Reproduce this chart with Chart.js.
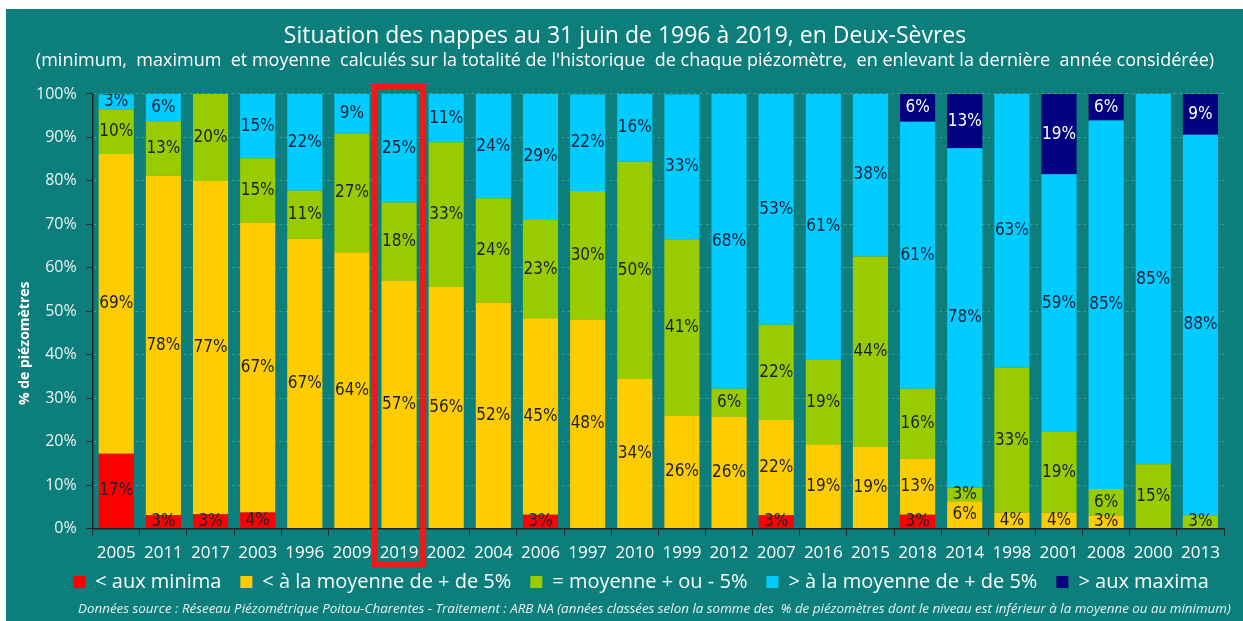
<!DOCTYPE html>
<html lang="fr">
<head>
<meta charset="utf-8">
<title>Situation des nappes - Deux-Sèvres</title>
<script src="https://cdn.jsdelivr.net/npm/chart.js@4/dist/chart.umd.min.js"></script>
<style>
  html, body { margin: 0; padding: 0; background: #fff; }
  #frame { position: absolute; left: 6px; top: 9px; width: 1237px; height: 612px; background: #0c7f7c; overflow: hidden; }
  #chart { position: absolute; left: 0; top: 0; }
  #source {
    position: absolute; left: 72px; top: 590px;
    font: italic 13.4px 'Open Sans', sans-serif; color: #e8f2f1; white-space: pre;
  }
</style>
</head>
<body>
<div id="frame">
  <canvas id="chart" width="1237" height="612"></canvas>
  <div id="source">Données source : Réseeau Piézométrique Poitou-Charentes - Traitement : ARB NA (années classées selon la somme des  % de piézomètres dont le niveau est inférieur à la moyenne ou au minimum)</div>
</div>
<script>
const years = ['2005', '2011', '2017', '2003', '1996', '2009', '2019', '2002', '2004', '2006', '1997', '2010',
  '1999', '2012', '2007', '2016', '2015', '2018', '2014', '1998', '2001', '2008', '2000', '2013'];

// % de piézomètres par classe
const belowMinima = [17.2, 3.1, 3.3, 3.7, 0, 0, 0, 0, 0, 3.2, 0, 0, 0, 0, 3.1, 0, 0, 3.2, 0, 0, 0, 0, 0, 0];
const belowAverage = [69.0, 78.1, 76.7, 66.7, 66.7, 63.6, 57.1, 55.6, 52.0, 45.2, 48.1, 34.4,
  25.9, 25.8, 21.9, 19.4, 18.8, 12.9, 6.3, 3.7, 3.7, 3.0, 0, 0];
const nearAverage = [10.3, 12.5, 20.0, 14.8, 11.1, 27.3, 17.9, 33.3, 24.0, 22.6, 29.6, 50.0,
  40.7, 6.4, 21.9, 19.4, 43.8, 16.1, 3.1, 33.3, 18.5, 6.1, 14.8, 3.1];
const aboveAverage = [3.4, 6.3, 0, 14.8, 22.2, 9.1, 25.0, 11.1, 24.0, 29.0, 22.2, 15.6,
  33.3, 67.8, 53.1, 61.3, 37.5, 61.4, 78.1, 63.0, 59.3, 84.8, 85.2, 87.5];
const aboveMaxima = [0, 0, 0, 0, 0, 0, 0, 0, 0, 0, 0, 0, 0, 0, 0, 0, 0, 6.4, 12.5, 0, 18.5, 6.1, 0, 9.4];

const highlightYear = '2019';
const yTicks = [0, 10, 20, 30, 40, 50, 60, 70, 80, 90, 100];

Chart.defaults.font.family = "'Open Sans', sans-serif";

const barLabels = {
  id: 'barLabels',
  afterDatasetsDraw(chart) {
    const { ctx, chartArea } = chart;
    ctx.save();
    ctx.beginPath();
    ctx.rect(chartArea.left, chartArea.top, chartArea.right - chartArea.left, chartArea.bottom - chartArea.top);
    ctx.clip();
    ctx.font = "17px 'DejaVu Sans Condensed', 'Open Sans', sans-serif";
    ctx.textAlign = 'center';
    ctx.textBaseline = 'middle';
    chart.data.datasets.forEach((ds, i) => {
      chart.getDatasetMeta(i).data.forEach((bar, j) => {
        const v = ds.data[j];
        if (!v) return;
        ctx.fillStyle = i === 4 ? '#ffffff' : '#1b2033';
        ctx.fillText(Math.round(v) + '%', bar.x, (bar.y + bar.base) / 2);
      });
    });
    ctx.restore();
  }
};

const highlight = {
  id: 'highlight',
  afterDraw(chart) {
    const { ctx, chartArea, scales } = chart;
    const i = years.indexOf(highlightYear);
    const cx = scales.x.getPixelForValue(i);
    const half = (chartArea.right - chartArea.left) / years.length / 2 + 0.5;
    ctx.save();
    ctx.strokeStyle = '#f01818';
    ctx.lineWidth = 6;
    ctx.strokeRect(cx - half, chartArea.top - 7, half * 2, chartArea.bottom - chartArea.top + 43);
    ctx.restore();
  }
};

const yTitle = {
  id: 'yTitle',
  afterDraw(chart) {
    const { ctx, chartArea } = chart;
    ctx.save();
    ctx.translate(19, (chartArea.top + chartArea.bottom) / 2 + 32);
    ctx.rotate(-Math.PI / 2);
    ctx.font = "bold 14px 'Open Sans', sans-serif";
    ctx.fillStyle = '#ffffff';
    ctx.textAlign = 'center';
    ctx.textBaseline = 'middle';
    ctx.fillText('% de piézomètres', 0, 0);
    ctx.restore();
  }
};

// nudge the legend row to the right, as in the original figure
const legendShift = {
  id: 'legendShift',
  afterLayout(chart) {
    if (!chart.legend) return;
    chart.legend.left += 21;
    chart.legend.right += 21;
  }
};

const ctx = document.getElementById('chart').getContext('2d');
new Chart(ctx, {
  type: 'bar',
  data: {
    labels: years,
    datasets: [
      { label: '< aux minima', data: belowMinima, backgroundColor: '#ff0000' },
      { label: '< à la moyenne de + de 5%', data: belowAverage, backgroundColor: '#ffcc00' },
      { label: '= moyenne + ou - 5%', data: nearAverage, backgroundColor: '#99cc00' },
      { label: '> à la moyenne de + de 5%', data: aboveAverage, backgroundColor: '#00ccff' },
      { label: '> aux maxima', data: aboveMaxima, backgroundColor: '#000080' }
    ]
  },
  options: {
    responsive: false,
    animation: false,
    categoryPercentage: 1,
    barPercentage: 0.745,
    layout: { padding: { left: 20, right: 19, top: 0, bottom: 19 } },
    plugins: {
      title: {
        display: true,
        text: 'Situation des nappes au 31 juin de 1996 à 2019, en Deux-Sèvres',
        color: '#ffffff',
        font: { size: 23, weight: 'normal', lineHeight: 1.12 },
        padding: { top: 15, bottom: 0 }
      },
      subtitle: {
        display: true,
        text: "(minimum,  maximum  et moyenne  calculés sur la totalité de l'historique  de chaque piézomètre,  en enlevant la dernière  année considérée)",
        color: '#ffffff',
        font: { size: 18 },
        padding: { top: 0, bottom: 22.6 }
      },
      legend: {
        position: 'bottom',
        labels: {
          color: '#ffffff',
          font: { size: 20 },
          boxWidth: 12,
          boxHeight: 12,
          padding: 9,
          generateLabels(chart) {
            return Chart.defaults.plugins.legend.labels.generateLabels(chart)
              .map(item => Object.assign(item, { text: item.text + '\u2002' }));
          }
        }
      },
      tooltip: { enabled: false }
    },
    scales: {
      x: {
        stacked: true,
        afterFit(axis) { axis.height -= 7; },
        grid: { drawOnChartArea: false, drawTicks: true, tickLength: 7, tickColor: '#222', offset: true },
        border: { color: '#222', width: 1.5 },
        ticks: { color: '#ffffff', font: { size: 17 }, padding: 7, maxRotation: 0, autoSkip: false }
      },
      y: {
        stacked: true,
        min: 0,
        max: 100,
        afterBuildTicks(axis) { axis.ticks = yTicks.map(v => ({ value: v })); },
        grid: { color: 'rgba(255,255,255,0.22)', tickColor: '#222', tickLength: 6 },
        border: { color: '#222', width: 1.5, dash: [3, 3] },
        ticks: { color: '#eef4f4', font: { size: 16 }, padding: 10, callback: v => v + '%' }
      }
    }
  },
  plugins: [barLabels, highlight, yTitle, legendShift]
});
</script>
</body>
</html>
